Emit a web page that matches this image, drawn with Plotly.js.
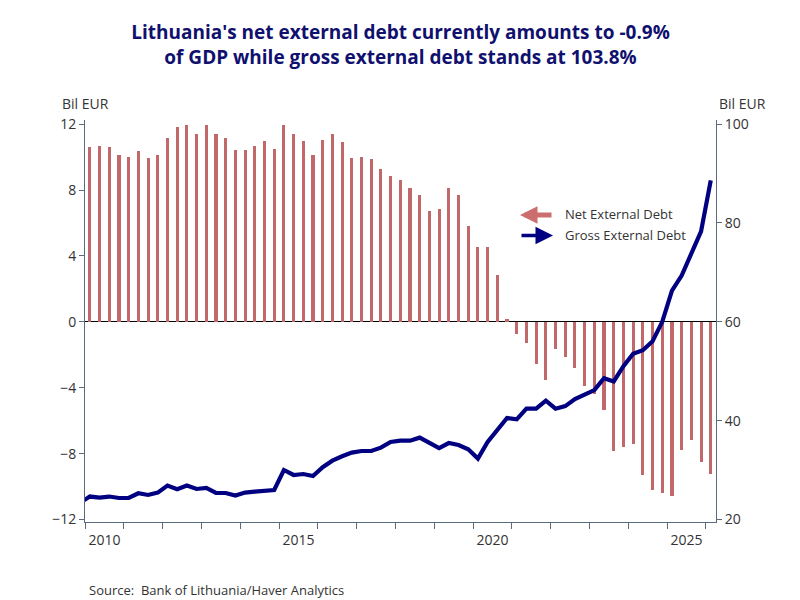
<!DOCTYPE html>
<html>
<head>
<meta charset="utf-8">
<script src="https://cdn.plot.ly/plotly-3.0.1.min.js"></script>
<style>html,body{margin:0;padding:0;background:#fff;}#chart{width:800px;height:600px;}</style>
</head>
<body>
<div id="chart"></div>
<script>
// ---- data ----
const quarters = ["2009Q4",
  "2010Q1","2010Q2","2010Q3","2010Q4","2011Q1","2011Q2","2011Q3","2011Q4",
  "2012Q1","2012Q2","2012Q3","2012Q4","2013Q1","2013Q2","2013Q3","2013Q4",
  "2014Q1","2014Q2","2014Q3","2014Q4","2015Q1","2015Q2","2015Q3","2015Q4",
  "2016Q1","2016Q2","2016Q3","2016Q4","2017Q1","2017Q2","2017Q3","2017Q4",
  "2018Q1","2018Q2","2018Q3","2018Q4","2019Q1","2019Q2","2019Q3","2019Q4",
  "2020Q1","2020Q2","2020Q3","2020Q4","2021Q1","2021Q2","2021Q3","2021Q4",
  "2022Q1","2022Q2","2022Q3","2022Q4","2023Q1","2023Q2","2023Q3","2023Q4",
  "2024Q1","2024Q2","2024Q3","2024Q4","2025Q1","2025Q2","2025Q3","2025Q4","2026Q1"];

// Net external debt, Bil EUR (left axis)
const netDebt = [null,
  10.64,10.70,10.64,10.10,9.98,10.34,9.92,10.10,
  11.13,11.85,11.92,11.39,11.92,11.39,11.13,10.40,
  10.40,10.70,10.95,10.52,11.92,11.43,10.95,10.10,
  11.01,11.43,10.89,9.92,10.02,9.86,9.25,8.83,
  8.58,8.14,7.67,6.70,6.83,8.10,7.67,5.80,
  4.52,4.52,2.83,0.20,-0.73,-1.27,-2.55,-3.52,
  -1.66,-2.14,-2.81,-3.88,-4.36,-5.33,-7.84,-7.58,
  -7.42,-9.27,-10.20,-10.36,-10.57,-7.78,-7.18,-8.51,-9.21];

// Gross external debt, Bil EUR (right axis)
const grossDebt = [23.4,
  24.65,24.44,24.65,24.36,24.36,25.31,24.97,25.45,
  26.87,26.12,26.87,26.18,26.38,25.37,25.37,24.85,
  25.45,25.66,25.86,25.98,30.02,29.01,29.21,28.81,
  30.60,31.90,32.80,33.54,33.86,33.86,34.55,35.68,
  35.96,35.96,36.57,35.56,34.47,35.47,35.07,34.20,
  32.32,35.68,38.10,40.53,40.26,42.42,42.42,44.04,
  42.42,42.95,44.36,45.17,46.18,48.60,47.94,51.03,
  53.54,54.26,56.08,60.00,66.30,69.35,73.90,78.30,88.60];

const yearTicks = [2010,2011,2012,2013,2014,2015,2016,2017,2018,2019,2020,2021,2022,2023,2024,2025,2026];
const labelYears = ["2010","2015","2020","2025"];
const leftTicks = [-12,-8,-4,0,4,8,12];
const rightTicks = [20,40,60,80,100];
const seriesNames = ["Net External Debt","Gross External Debt"];

// ---- helpers ----
function qToYear(q){ const y = +q.slice(0,4), n = +q.slice(5); return y + (n-1)*0.25 + 0.125; }
const xs = quarters.map(qToYear);
const labelPos = labelYears.map(y => +y + 0.5);   // labels centred in the year

const W = 800, H = 600, L = 85, R = 84, T = 120, B = 78;
const PW = W - L - R, PH = H - T - B;
const px = x => (x - L) / PW;
const py = y => (H - B - y) / PH;
const XR = [2010.0, 2026.26];

const font = "'Open Sans', 'Noto Sans', sans-serif";
const axisCol = "#5b6b7d";
const barCol = "#c0686a";
const lineCol = "#000080";
const tickFont = { family: font, size: 14, color: "#333" };

const traces = [
  { type: "bar", x: xs, y: netDebt, name: seriesNames[0], yaxis: "y",
    width: 0.08, marker: { color: barCol }, showlegend: false },
  { type: "scatter", mode: "lines", x: xs, y: grossDebt, name: seriesNames[1], yaxis: "y2",
    line: { color: lineCol, width: 4.2 }, showlegend: false },
  // carrier for the year-label axis
  { type: "scatter", mode: "markers", x: labelPos, y: labelPos.map(() => null),
    xaxis: "x2", yaxis: "y", showlegend: false, hoverinfo: "skip", marker: { opacity: 0 } }
];

const layout = {
  width: W, height: H,
  margin: { l: L, r: R, t: T, b: B, pad: 0 },
  paper_bgcolor: "#fff", plot_bgcolor: "#fff",
  font: { family: font, size: 14, color: "#333" },
  title: {
    text: "<b>Lithuania's net external debt currently amounts to -0.9%<br>of GDP while gross external debt stands at 103.8%</b>",
    font: { family: font, size: 19, color: "#10106e" },
    x: 0.5, xref: "paper", xanchor: "center",
    y: 1 - 39 / H, yref: "container", yanchor: "middle"
  },
  bargap: 0,
  xaxis: {
    type: "linear", range: XR,
    tickmode: "array", tickvals: yearTicks, showticklabels: false,
    ticks: "outside", ticklen: 6, tickwidth: 1, tickcolor: axisCol,
    showline: true, linecolor: axisCol, linewidth: 1,
    showgrid: false, zeroline: false
  },
  xaxis2: {
    type: "linear", range: XR, overlaying: "x", anchor: "y", side: "bottom",
    tickmode: "array", tickvals: labelPos, ticktext: labelYears,
    ticks: "", showline: false, showgrid: false, zeroline: false,
    ticklabelstandoff: 8,
    tickfont: tickFont
  },
  yaxis: {
    range: [-12.15, 12.25],
    tickmode: "array", tickvals: leftTicks,
    ticks: "outside", ticklen: 5, tickcolor: axisCol,
    showline: true, linecolor: axisCol, linewidth: 1,
    showgrid: false,
    zeroline: true, zerolinecolor: "#000", zerolinewidth: 1.3,
    tickfont: tickFont
  },
  yaxis2: {
    overlaying: "y", side: "right",
    range: [19.5, 100.83],
    tickmode: "array", tickvals: rightTicks,
    ticks: "outside", ticklen: 5, tickcolor: axisCol,
    showline: true, linecolor: axisCol, linewidth: 1,
    showgrid: false, zeroline: false,
    tickfont: tickFont
  },
  annotations: [
    { text: "Bil EUR", xref: "paper", yref: "paper", x: px(85), y: py(104),
      xanchor: "center", yanchor: "middle", showarrow: false, font: tickFont },
    { text: "Bil EUR", xref: "paper", yref: "paper", x: px(743), y: py(104),
      xanchor: "center", yanchor: "middle", showarrow: false, font: tickFont },
    { text: "Source:  Bank of Lithuania/Haver Analytics", xref: "paper", yref: "paper",
      x: px(87), y: py(590), xanchor: "left", yanchor: "middle", showarrow: false,
      font: { family: font, size: 13, color: "#333" } },
    // custom legend (arrow symbols)
    { text: "", xref: "paper", yref: "paper", x: px(520), y: py(215),
      ax: 33, ay: 0, axref: "pixel", ayref: "pixel",
      showarrow: true, arrowhead: 2, arrowsize: 0.7, arrowwidth: 5, arrowcolor: "#cc6e6e" },
    { text: seriesNames[0], xref: "paper", yref: "paper", x: px(563), y: py(214),
      xanchor: "left", yanchor: "middle", showarrow: false,
      font: { family: font, size: 13, color: "#333" } },
    { text: "", xref: "paper", yref: "paper", x: px(553), y: py(235.5),
      ax: -33, ay: 0, axref: "pixel", ayref: "pixel",
      showarrow: true, arrowhead: 2, arrowsize: 1, arrowwidth: 3.5, arrowcolor: lineCol },
    { text: seriesNames[1], xref: "paper", yref: "paper", x: px(563), y: py(235),
      xanchor: "left", yanchor: "middle", showarrow: false,
      font: { family: font, size: 13, color: "#333" } }
  ]
};

Plotly.newPlot("chart", traces, layout, { staticPlot: true, displayModeBar: false });
</script>
</body>
</html>
